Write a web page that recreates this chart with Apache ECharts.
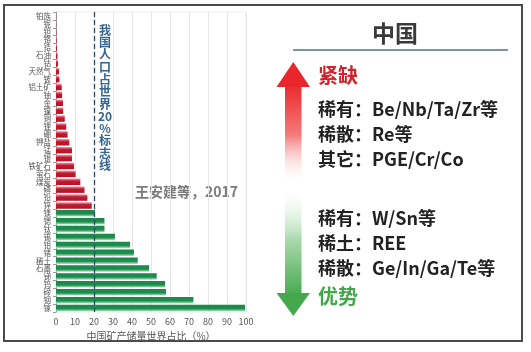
<!DOCTYPE html>
<html>
<head>
<meta charset="utf-8">
<script src="https://cdn.jsdelivr.net/npm/echarts@6/dist/echarts.min.js"></script>
<style>
  html, body { margin: 0; padding: 0; background: #fff; }
  #main { width: 531px; height: 352px; }
</style>
</head>
<body>
<div id="main"></div>
<script>
// 矿种（自上而下）
var mineralNames = ["铂族", "铌", "钽", "铬", "锆", "石油", "钴", "天然气", "铍", "铝土矿",
  "铀", "金", "镍", "铜", "锂", "硼", "钾盐", "锰", "银", "铁矿石",
  "萤石", "煤炭", "磷", "铅", "锌", "镁", "锶", "钛", "锡", "钼",
  "锗", "稀土", "石墨", "锑", "钨", "碲", "铟", "镓"];
// 中国储量占世界比例（%）
var shareValues = [0.1, 0.1, 0.2, 0.3, 0.5, 0.8, 1.1, 1.6, 1.8, 3.0,
  3.2, 3.7, 3.8, 4.6, 5.4, 6.1, 7.0, 8.4, 8.4, 9.5,
  10.3, 12.8, 15.0, 16.5, 18.8, 20.5, 25.5, 25.5, 31, 39,
  41, 43, 49, 53, 57.4, 57.9, 72.3, 99.5];
var xTicks = [0, 10, 20, 30, 40, 50, 60, 70, 80, 90, 100];
var populationLine = 20;

var scarceItems = ["稀有：Be/Nb/Ta/Zr等", "稀散：Re等", "其它：PGE/Cr/Co"];
var advantageItems = ["稀有：W/Sn等", "稀土：REE", "稀散：Ge/In/Ga/Te等"];

(function () {
  var myChart = echarts.init(document.getElementById("main"));
  var cjk = '"Noto Sans CJK SC", "Noto Sans", sans-serif';

  var redBar = new echarts.graphic.LinearGradient(0, 0, 0, 1, [
    { offset: 0, color: "#f3a3ab" },
    { offset: 0.4, color: "#c4182f" },
    { offset: 1, color: "#b0142a" },
  ]);
  var greenBar = new echarts.graphic.LinearGradient(0, 0, 0, 1, [
    { offset: 0, color: "#1c874a" },
    { offset: 0.6, color: "#1f8c4d" },
    { offset: 1, color: "#a6ecc2" },
  ]);

  var barData = shareValues.map(function (v) {
    return {
      value: v,
      itemStyle: { color: v < populationLine ? redBar : greenBar },
    };
  });

  var graphics = [
    // 外框
    {
      type: "rect",
      shape: { x: 4, y: 5, width: 518, height: 336 },
      style: { fill: "none", stroke: "#4a4a4a", lineWidth: 2 },
      silent: true,
    },
    // 20%标志线说明
    {
      type: "text",
      x: 105,
      y: 24,
      style: {
        text: "我\n国\n人\n口\n占\n世\n界\n20\n%\n标\n志\n线",
        fill: "#35648f",
        font: "bold 12px " + cjk,
        lineHeight: 12.3,
        textAlign: "center",
        textVerticalAlign: "top",
      },
    },
    {
      type: "text",
      x: 135,
      y: 192,
      style: {
        text: "王安建等，2017",
        fill: "#7a7a7a",
        font: "bold 14px " + cjk,
        textVerticalAlign: "middle",
      },
    },
    // 右侧面板
    {
      type: "text",
      x: 395,
      y: 33,
      style: {
        text: "中国",
        fill: "#3a3a3a",
        font: "bold 23px " + cjk,
        textAlign: "center",
        textVerticalAlign: "middle",
      },
    },
    {
      type: "line",
      shape: { x1: 293, y1: 50, x2: 508, y2: 50 },
      style: { stroke: "#7895a3", lineWidth: 2 },
    },
    // 红色箭头
    {
      type: "rect",
      shape: { x: 285, y: 85, width: 16.5, height: 100 },
      style: {
        fill: new echarts.graphic.LinearGradient(0, 0, 0, 1, [
          { offset: 0, color: "#ea2a2e" },
          { offset: 0.5, color: "#f47a7a" },
          { offset: 1, color: "rgba(255,255,255,0)" },
        ]),
      },
    },
    {
      type: "polygon",
      shape: { points: [[293.3, 62], [276.5, 87], [310, 87]] },
      style: { fill: "#e8262b" },
    },
    // 绿色箭头
    {
      type: "rect",
      shape: { x: 285, y: 185, width: 16.5, height: 109 },
      style: {
        fill: new echarts.graphic.LinearGradient(0, 0, 0, 1, [
          { offset: 0, color: "rgba(255,255,255,0)" },
          { offset: 0.5, color: "#a9d9ac" },
          { offset: 1, color: "#4aab51" },
        ]),
      },
    },
    {
      type: "polygon",
      shape: { points: [[276.5, 293], [310, 293], [293.3, 316]] },
      style: { fill: "#45a84d" },
    },
    {
      type: "text",
      x: 318,
      y: 75,
      style: {
        text: "紧缺",
        fill: "#d2232a",
        font: "bold 20px " + cjk,
        textVerticalAlign: "middle",
      },
    },
    {
      type: "text",
      x: 318,
      y: 296,
      style: {
        text: "优势",
        fill: "#43a84a",
        font: "bold 20px " + cjk,
        textVerticalAlign: "middle",
      },
    },
  ];

  scarceItems.forEach(function (t, i) {
    graphics.push({
      type: "text",
      x: 318,
      y: 109 + i * 25,
      style: { text: t, fill: "#222", font: "bold 18px " + cjk, textVerticalAlign: "middle" },
    });
  });
  advantageItems.forEach(function (t, i) {
    graphics.push({
      type: "text",
      x: 318,
      y: 218 + i * 25,
      style: { text: t, fill: "#222", font: "bold 18px " + cjk, textVerticalAlign: "middle" },
    });
  });

  var option = {
    backgroundColor: "#fff",
    animation: false,
    grid: {
      left: 56,
      right: 285,
      top: 12,
      bottom: 40,
      show: true,
      borderColor: "#ececec",
      borderWidth: 1,
    },
    xAxis: {
      type: "value",
      min: xTicks[0],
      max: xTicks[xTicks.length - 1],
      interval: 10,
      name: "中国矿产储量世界占比（%）",
      nameLocation: "middle",
      nameGap: 17,
      nameTextStyle: { color: "#555", fontSize: 10, fontFamily: cjk },
      axisLine: { show: false },
      axisTick: { show: false },
      axisLabel: { color: "#555", fontSize: 9, margin: 5, fontFamily: cjk },
      splitLine: { show: true, lineStyle: { color: "#e6e6e6", width: 1 } },
    },
    yAxis: {
      type: "category",
      inverse: true,
      data: mineralNames,
      axisLine: { show: true, lineStyle: { color: "#9a9a9a" } },
      axisTick: { show: true, length: 3, lineStyle: { color: "#9a9a9a" } },
      axisLabel: { interval: 0, fontSize: 7.5, color: "#555", margin: 5, fontFamily: cjk },
    },
    series: [
      {
        type: "bar",
        data: barData,
        barWidth: 6.5,
        markLine: {
          silent: true,
          symbol: "none",
          label: { show: false },
          lineStyle: { color: "#2c4866", type: [5, 3], width: 1.3 },
          data: [{ xAxis: populationLine }],
        },
      },
    ],
    graphic: graphics,
  };

  myChart.setOption(option);
  window.addEventListener("resize", function () {
    myChart.resize();
  });
})();
</script>
</body>
</html>
